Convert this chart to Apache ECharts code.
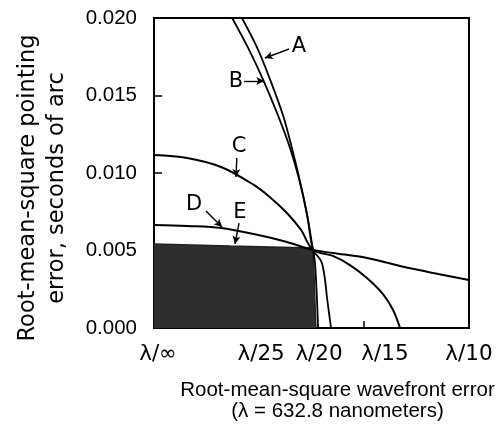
<!DOCTYPE html>
<html>
<head>
<meta charset="utf-8">
<script src="https://cdn.jsdelivr.net/npm/echarts@6/dist/echarts.min.js"></script>
<style>
  html, body { margin: 0; padding: 0; background: #fff; }
  #chart { width: 498px; height: 436px; }
</style>
</head>
<body>
<div id="chart"></div>
<script>
// ---- data (x: rms wavefront error in waves, y: rms pointing error, arcsec) ----
const xTickLabels = ['λ/∞', 'λ/25', 'λ/20', 'λ/15', 'λ/10'];
const xTickValues = [0, 1 / 25, 1 / 20, 1 / 15, 1 / 10];
const xLabelAt = [0.0013, 0.034, 0.0524, 0.0733, 0.1];
const yTicks = [0, 0.005, 0.010, 0.015, 0.020];

const curveA = [
  [0.0279, 0.0200], [0.0327, 0.0181], [0.0371, 0.0159], [0.0410, 0.0137],
  [0.0438, 0.0116], [0.0463, 0.0095], [0.0486, 0.0073], [0.0505, 0.0050],
  [0.0521, 0.0046], [0.0533, 0.0042], [0.0543, 0.0031], [0.0549, 0.0020],
  [0.0562, 0.0000]
];
const curveB = [
  [0.0248, 0.0200], [0.0298, 0.0181], [0.0349, 0.0159], [0.0394, 0.0137],
  [0.0432, 0.0116], [0.0462, 0.0095], [0.0486, 0.0073], [0.0505, 0.0050],
  [0.0511, 0.0042], [0.0517, 0.0020], [0.0521, 0.0000]
];
const curveC = [
  [0.0000, 0.01116], [0.0105, 0.01097], [0.0213, 0.01039], [0.0317, 0.00923],
  [0.0371, 0.00839], [0.0422, 0.00742], [0.0467, 0.00632], [0.0505, 0.00503],
  [0.0568, 0.00465], [0.0622, 0.00406], [0.0676, 0.00323], [0.0727, 0.00219],
  [0.0759, 0.00116], [0.0781, 0.00000]
];
const curveD = [
  [0.0000, 0.00665], [0.0105, 0.00658], [0.0213, 0.00645], [0.0317, 0.00606],
  [0.0422, 0.00555], [0.0505, 0.00503], [0.0568, 0.00484], [0.0676, 0.00452],
  [0.0781, 0.00400], [0.0886, 0.00355], [0.1000, 0.00310]
];
const curveE = [
  [0.0000, 0.00542], [0.0241, 0.00529], [0.0505, 0.00516], [0.0514, 0.00000]
];

// annotation letters: [label, textX, textY, arrowFromX, arrowFromY, arrowToX, arrowToY]
const notes = [
  ['A', 0.0460, 0.01813, 0.0429, 0.0180, 0.0352, 0.01742],
  ['B', 0.0260, 0.01587, 0.0286, 0.01594, 0.0350, 0.01594],
  ['C', 0.0270, 0.01168, 0.0263, 0.01097, 0.0260, 0.00974],
  ['D', 0.0127, 0.00794, 0.0165, 0.00755, 0.0216, 0.00652],
  ['E', 0.0273, 0.00742, 0.0270, 0.00677, 0.0257, 0.00542]
];

const SANS = '"Liberation Sans", Arial, Helvetica, sans-serif';
const WIDE = '"DejaVu Sans", "Liberation Sans", Arial, sans-serif';
const chart = echarts.init(document.getElementById('chart'), null, { renderer: 'canvas' });

function noteParts(n) {
  return {
    markPoint: {
      silent: true,
      symbol: 'circle',
      symbolSize: 1,
      itemStyle: { color: 'rgba(0,0,0,0)' },
      label: { show: true, position: 'inside', formatter: n[0], color: '#000', fontSize: 21, fontFamily: WIDE },
      data: [{ coord: [n[1], n[2]] }]
    },
    markLine: {
      silent: true,
      symbol: ['none', 'arrow'],
      symbolSize: [6, 8],
      label: { show: false },
      lineStyle: { color: '#000', width: 1.4, type: 'solid' },
      data: [[{ coord: [n[3], n[4]] }, { coord: [n[5], n[6]] }]]
    }
  };
}

const curves = { A: curveA, B: curveB, C: curveC, D: curveD };
const series = Object.keys(curves).map((k, i) => Object.assign({
  name: k,
  type: 'line',
  data: curves[k],
  showSymbol: false,
  smooth: 0.35,
  lineStyle: { color: '#000', width: k === 'A' || k === 'B' ? 1.8 : 2 },
  z: 3
}, noteParts(notes[i])));

series.push(Object.assign({
  name: 'E',
  type: 'line',
  data: curveE,
  showSymbol: false,
  smooth: false,
  lineStyle: { color: '#222', width: 1.5 },
  areaStyle: { color: '#2e2e2e', opacity: 1, origin: 'start' },
  z: 2
}, noteParts(notes[4])));

chart.setOption({
  animation: false,
  backgroundColor: '#fff',
  grid: {
    left: 154, right: 29, top: 18, bottom: 108,
    outerBoundsMode: 'none',
    containLabel: false,
    show: true, borderColor: '#000', borderWidth: 2, backgroundColor: 'rgba(0,0,0,0)'
  },
  xAxis: {
    type: 'value',
    min: 0, max: 0.1,
    name: 'Root-mean-square wavefront error\n(λ = 632.8 nanometers)',
    nameLocation: 'middle',
    nameGap: 52,
    nameTextStyle: { color: '#000', fontSize: 20.5, fontFamily: SANS, lineHeight: 21, padding: [0, 0, 0, 52] },
    axisLine: { show: true, lineStyle: { color: '#000', width: 2 } },
    axisTick: { show: true, inside: true, length: 7, customValues: xTickValues.slice(1, 4), lineStyle: { color: '#000', width: 1.5 } },
    axisLabel: {
      customValues: xLabelAt,
      margin: 15,
      color: '#000', fontSize: 21.5, fontFamily: WIDE,
      formatter: function (v) {
        let best = 0;
        for (let i = 1; i < xLabelAt.length; i++) {
          if (Math.abs(xLabelAt[i] - v) < Math.abs(xLabelAt[best] - v)) best = i;
        }
        return xTickLabels[best];
      }
    },
    splitLine: { show: false }
  },
  yAxis: {
    type: 'value',
    min: yTicks[0], max: yTicks[yTicks.length - 1], interval: 0.005,
    name: 'Root-mean-square pointing\nerror, seconds of arc',
    nameLocation: 'middle',
    nameGap: 82,
    nameRotate: 90,
    nameTextStyle: { color: '#000', fontSize: 22.5, fontFamily: WIDE, lineHeight: 29, padding: [0, 30, 0, 0] },
    axisLine: { show: true, lineStyle: { color: '#000', width: 2 } },
    axisTick: { show: true, inside: true, length: 8, lineStyle: { color: '#000', width: 1.5 } },
    axisLabel: {
      margin: 17, color: '#000', fontSize: 20.5, fontFamily: SANS,
      formatter: v => v.toFixed(3)
    },
    splitLine: { show: false }
  },
  series: series
});
</script>
</body>
</html>
